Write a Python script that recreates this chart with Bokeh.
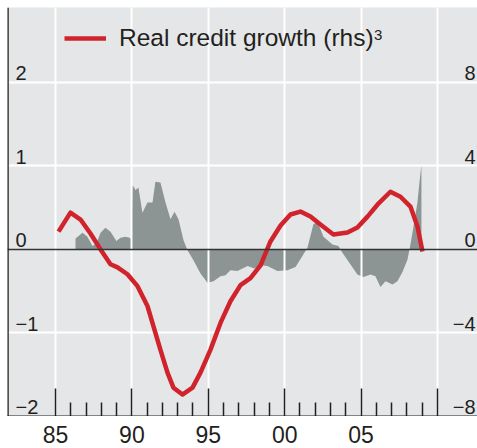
from bokeh.plotting import figure
from bokeh.layouts import column
from bokeh.models import (Range1d, FixedTicker, Span, Legend, LegendItem,
                          ColumnDataSource, Label)
from bokeh.core.properties import value
from bokeh.embed import file_html
from bokeh.resources import INLINE

# ---- data ----
gap_years = [1986.31, 1986.77, 1987.09, 1987.42, 1987.68, 1987.95, 1988.27, 1988.60,
             1988.99, 1989.25, 1989.58, 1989.84, 1989.97, 1990.04, 1990.24, 1990.43,
             1990.69, 1991.02, 1991.35, 1991.54, 1991.87, 1992.20, 1992.53, 1992.79,
             1993.05, 1993.38, 1993.64, 1994.03, 1994.49, 1994.95, 1995.34, 1995.80,
             1996.13, 1996.45, 1996.91, 1997.57, 1998.02, 1998.42, 1998.87, 1999.53,
             2000.18, 2000.71, 2001.16, 2001.49, 2001.88, 2002.15, 2002.54, 2003.13,
             2003.52, 2003.78, 2004.31, 2004.76, 2005.16, 2005.62, 2005.94, 2006.27,
             2006.60, 2007.06, 2007.38, 2007.71, 2008.04, 2008.23, 2008.43, 2008.69,
             2008.82, 2008.95]
gap_values = [0.13, 0.20, 0.15, 0.04, 0.07, 0.20, 0.26, 0.21,
              0.10, 0.14, 0.15, 0.14, 0.12, 0.77, 0.71, 0.74,
              0.44, 0.56, 0.56, 0.81, 0.80, 0.56, 0.36, 0.45,
              0.36, 0.11, -0.01, -0.13, -0.29, -0.40, -0.38, -0.32,
              -0.31, -0.25, -0.26, -0.20, -0.23, -0.19, -0.20, -0.26,
              -0.25, -0.21, -0.08, 0.02, 0.30, 0.33, 0.15, 0.06,
              0.04, -0.04, -0.18, -0.30, -0.33, -0.30, -0.32, -0.45,
              -0.38, -0.42, -0.38, -0.27, -0.12, 0.06, 0.27, 0.56,
              0.80, 1.01]

credit_years = [1985.20, 1985.98, 1986.64, 1987.29, 1987.95, 1988.60, 1989.06, 1989.71,
                1990.37, 1991.02, 1991.41, 1991.87, 1992.33, 1992.72, 1993.31, 1993.97,
                1994.49, 1995.14, 1995.80, 1996.45, 1997.11, 1997.76, 1998.42, 1999.07,
                1999.73, 2000.38, 2001.03, 2001.69, 2002.34, 2003.19, 2004.11, 2004.76,
                2005.42, 2006.07, 2006.92, 2007.58, 2008.23, 2008.69, 2009.02]
credit_growth = [0.85, 1.76, 1.43, 0.76, 0.0, -0.71, -0.86, -1.19,
                 -1.76, -2.71, -3.67, -4.81, -5.90, -6.62, -6.95, -6.62,
                 -5.90, -4.81, -3.52, -2.48, -1.71, -1.38, -0.76, 0.38,
                 1.14, 1.67, 1.81, 1.57, 1.19, 0.71, 0.81, 1.05,
                 1.57, 2.14, 2.76, 2.52, 2.05, 1.10, -0.10]

major_years = [1985, 1990, 1995, 2000, 2005, 2010]
major_labels = ["85", "90", "95", "00", "05", ""]
minor_years = [y for y in range(1986, 2010) if y % 5 != 0]
left_ticks = [2, 1, 0, -1, -2]
left_labels = ["2", "1", "0", "\u22121", "\u22122"]
right_ticks = [8, 4, 0, -4, -8]
right_labels = ["8", "4", "0", "\u22124", "\u22128"]
legend_label = "Real credit growth (rhs)"
legend_note = "3"

FONT = "Liberation Sans"
TXT = "#231f20"
X0, X1 = 1981.86, 2012.62
Y0, Y1 = -2, 2.895

p = figure(width=477, height=416, output_backend="svg", toolbar_location=None,
           x_range=Range1d(X0, X1), y_range=Range1d(Y0, Y1),
           min_border_left=7, min_border_right=0, min_border_top=7,
           min_border_bottom=0)
p.extra_y_ranges = {"rhs": Range1d(Y0 * 4, Y1 * 4)}
p.background_fill_color = "#e5e6e8"
p.border_fill_color = "white"
p.outline_line_color = None

# grey area (lhs)
p.varea(x=gap_years, y1=0, y2=gap_values, fill_color="#8c9593", level="image")

# grids
p.xgrid.ticker = FixedTicker(ticks=major_years)
p.xgrid.grid_line_color = "white"
p.xgrid.grid_line_width = 2
p.ygrid.ticker = FixedTicker(ticks=[2, 1, -1])
p.ygrid.grid_line_color = "white"
p.ygrid.grid_line_width = 2

# zero line
p.add_layout(Span(location=0, dimension="width", line_color="#333333", line_width=1.5))
# left border line
p.add_layout(Span(location=X0, dimension="height", line_color=TXT, line_width=2.5))

# red line (rhs)
line = p.line(x=credit_years, y=credit_growth, y_range_name="rhs",
              line_color="#d0232b", line_width=4.5, line_join="round")

# x axis: ticks only; labels in the strip below
ax = p.xaxis[0]
ax.ticker = FixedTicker(ticks=major_years, minor_ticks=minor_years)
ax.major_label_overrides = {y: "" for y in major_years}
ax.major_label_text_font_size = "0px"
ax.major_label_standoff = 0
ax.axis_line_color = TXT
ax.axis_line_width = 2
ax.major_tick_in = 28
ax.major_tick_out = 0
ax.major_tick_line_color = TXT
ax.major_tick_line_width = 1.5
ax.minor_tick_in = 14
ax.minor_tick_out = 0
ax.minor_tick_line_color = TXT
ax.minor_tick_line_width = 1.5
p.yaxis.visible = False

# y labels inside plot, sitting just above their grid lines
def ylabels(ticks, labels, xpos, xoff, align, rng, yoff):
    src = ColumnDataSource(dict(x=[xpos] * len(ticks), y=ticks, t=labels))
    kw = dict(y_range_name=rng) if rng else {}
    p.text(x="x", y="y", text="t", source=src, x_offset=xoff, y_offset=yoff,
           text_align=align, text_baseline="bottom",
           text_font=value(FONT), text_font_size="20px", text_color=TXT, **kw)

ylabels(left_ticks[:-1], left_labels[:-1], X0, 8, "left", None, -2)
ylabels(left_ticks[-1:], left_labels[-1:], X0, 8, "left", None, -3)
ylabels(right_ticks[:-1], right_labels[:-1], X1, -2, "right", "rhs", -2)
ylabels(right_ticks[-1:], right_labels[-1:], X1, -2, "right", "rhs", -3)

legend = Legend(items=[LegendItem(label=legend_label, renderers=[line])],
                location=(57, 364), glyph_width=42, glyph_height=20,
                label_standoff=13, padding=0, spacing=0, margin=0,
                background_fill_alpha=0, border_line_color=None,
                label_text_font=FONT, label_text_font_size="24.5px",
                label_text_color=TXT)
p.add_layout(legend)
p.add_layout(Label(x=2005.85, y=2.63, text=legend_note, text_baseline="top",
                   text_font=FONT, text_font_size="15px", text_color=TXT))

# strip with the x tick labels, sharing the x scale
q = figure(width=477, height=32, output_backend="svg", toolbar_location=None,
           x_range=p.x_range, y_range=Range1d(0, 1),
           min_border_left=7, min_border_right=0, min_border_top=0,
           min_border_bottom=0)
q.axis.visible = False
q.grid.visible = False
q.outline_line_color = None
q.background_fill_color = "white"
xs = ColumnDataSource(dict(x=major_years, y=[1] * len(major_years), t=major_labels))
q.text(x="x", y="y", text="t", source=xs, y_offset=9,
       text_align="center", text_baseline="top",
       text_font=value(FONT), text_font_size="23px", text_color=TXT)

open("out.html", "w").write(file_html(column(p, q, spacing=0), INLINE))
